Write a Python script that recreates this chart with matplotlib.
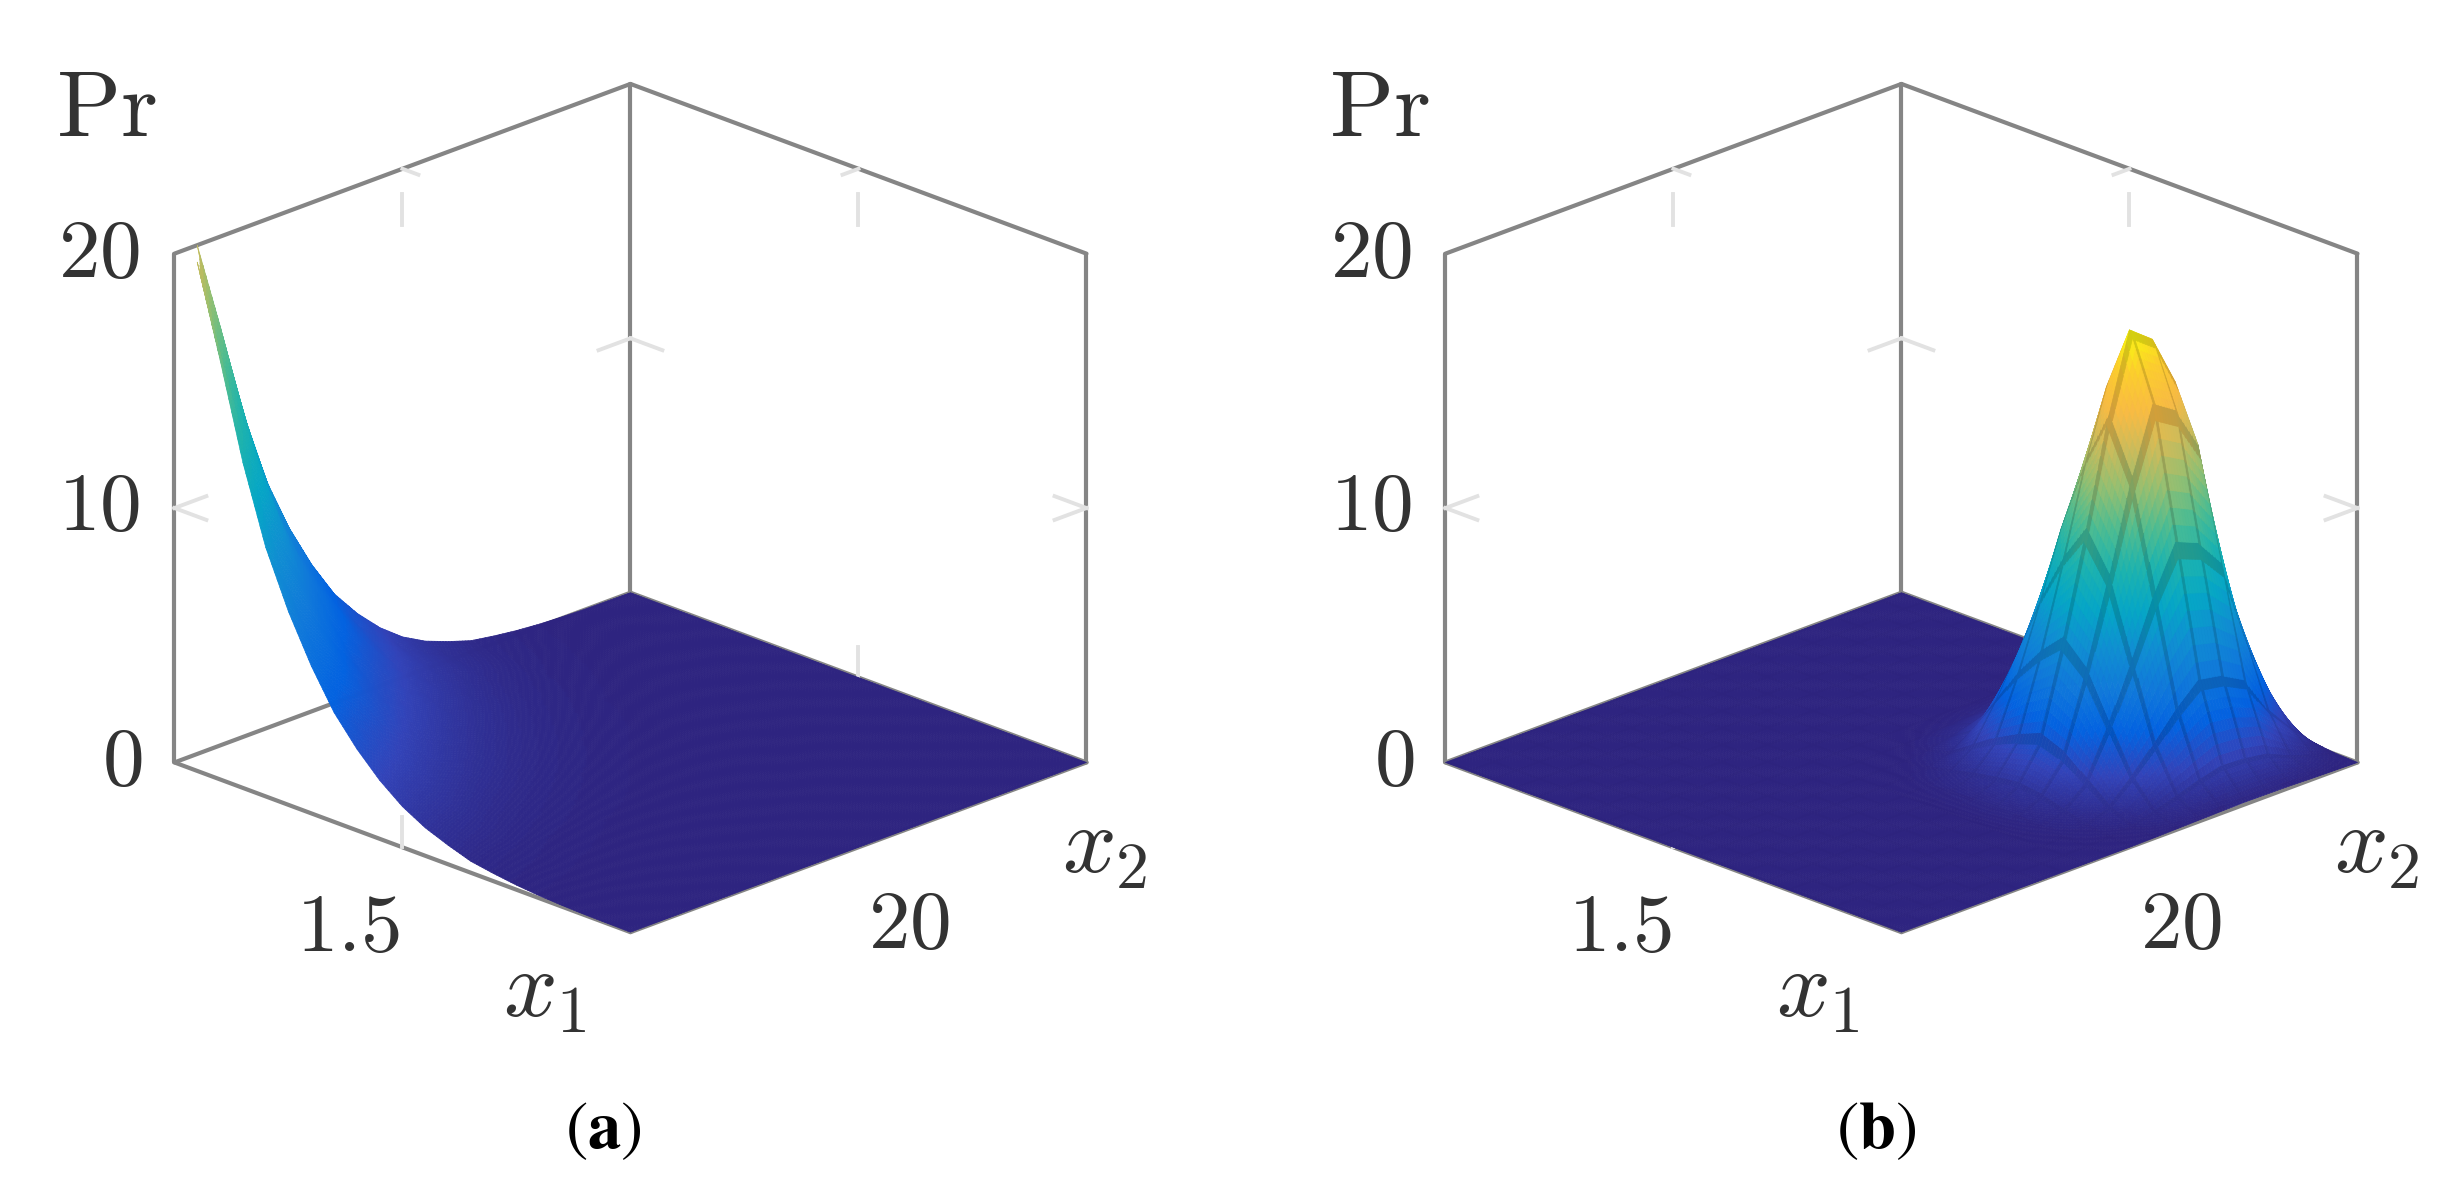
import numpy as np
import matplotlib
matplotlib.use('Agg')
import matplotlib.pyplot as plt
from matplotlib.colors import LinearSegmentedColormap, Normalize

plt.rcParams['mathtext.fontset'] = 'cm'

# grid of the surfaces
x1_grid = np.linspace(1, 2, 21)
x2_grid = np.linspace(10, 30, 21)

x1_lim = (1, 2)
x2_lim = (10, 30)
pr_lim = (0, 20)
x1_tick = 1.5
x2_tick = 20
pr_tick = 10

# Pr, row = x1 node, column = x2 node, the rest is 0.
# The corner node lies above the top of the box and gets cut off there.
pr_a_rows = [
    [25, 20, 16.5, 12.8, 9.8, 7.6, 5.8, 4.3, 3.2, 2.3, 1.6, 1.1, .75, .45, .3, .18, .1, .05, .02, .01],
    [20, 16, 13.2, 10.2, 7.8, 6.1, 4.6, 3.4, 2.6, 1.8, 1.3, .88, .6, .36, .24, .14, .08, .04, .02, .01],
    [16.5, 13.2, 10.9, 8.4, 6.5, 5, 3.8, 2.8, 2.1, 1.5, 1.1, .73, .5, .3, .2, .12, .07, .03, .01, .01],
    [12.8, 10.2, 8.4, 6.6, 5, 3.9, 3, 2.2, 1.6, 1.2, .82, .56, .38, .23, .15, .09, .05, .03, .01, .01],
    [9.8, 7.8, 6.5, 5, 3.8, 3, 2.3, 1.7, 1.3, .9, .63, .43, .29, .18, .12, .07, .04, .02, .01],
    [7.6, 6.1, 5, 3.9, 3, 2.3, 1.8, 1.3, .97, .7, .49, .33, .23, .14, .09, .05, .03, .02, .01],
    [5.8, 4.6, 3.8, 3, 2.3, 1.8, 1.3, 1, .74, .53, .37, .26, .17, .1, .07, .04, .02, .01],
    [4.3, 3.4, 2.8, 2.2, 1.7, 1.3, 1, .74, .55, .4, .28, .19, .13, .08, .05, .03, .02, .01],
    [3.2, 2.6, 2.1, 1.6, 1.3, .97, .74, .55, .41, .29, .2, .14, .1, .06, .04, .02, .01, .01],
    [2.3, 1.8, 1.5, 1.2, .9, .7, .53, .4, .29, .21, .15, .1, .07, .04, .03, .02, .01],
    [1.6, 1.3, 1.1, .82, .63, .49, .37, .28, .2, .15, .1, .07, .05, .03, .02, .01, .01],
    [1.1, .88, .73, .56, .43, .33, .26, .19, .14, .1, .07, .05, .03, .02, .01, .01],
    [.75, .6, .5, .38, .29, .23, .17, .13, .1, .07, .05, .03, .02, .01, .01, .01],
    [.45, .36, .3, .23, .18, .14, .1, .08, .06, .04, .03, .02, .01, .01, .01],
    [.3, .24, .2, .15, .12, .09, .07, .05, .04, .03, .02, .01, .01, .01],
    [.18, .14, .12, .09, .07, .05, .04, .03, .02, .02, .01, .01, .01],
    [.1, .08, .07, .05, .04, .03, .02, .02, .01, .01, .01],
    [.05, .04, .03, .03, .02, .02, .01, .01, .01],
    [.02, .02, .01, .01, .01, .01],
    [.01, .01, .01, .01],
]

# Pr, the nodes around the peak (last 12 x1 and x2 nodes)
pr_b_peak = [
    [0, .01, .02, .07, .11, .16, .2, .2, .17, .1, .05, .01],
    [.01, .03, .1, .27, .47, .68, .85, .82, .72, .43, .21, .03],
    [.03, .1, .31, .82, 1.4, 2.04, 2.55, 2.45, 2.15, 1.28, .64, .09],
    [.08, .27, .82, 2.18, 3.74, 5.44, 6.8, 6.52, 5.72, 3.4, 1.7, .24],
    [.13, .44, 1.33, 3.54, 6.08, 8.84, 11.05, 10.6, 9.3, 5.53, 2.76, .39],
    [.17, .58, 1.73, 4.62, 7.95, 11.56, 14.45, 13.86, 12.16, 7.23, 3.61, .51],
    [.2, .68, 2.04, 5.44, 9.35, 13.6, 17, 16.3, 14.3, 8.5, 4.25, .6],
    [.17, .58, 1.73, 4.62, 7.95, 11.56, 14.45, 13.86, 12.16, 7.23, 3.61, .51],
    [.11, .37, 1.12, 2.99, 5.14, 7.48, 9.35, 8.97, 7.87, 4.68, 2.34, .33],
    [.05, .17, .51, 1.36, 2.34, 3.4, 4.25, 4.08, 3.58, 2.13, 1.06, .15],
    [.01, .05, .14, .38, .65, .95, 1.19, 1.14, 1, .6, .3, .04],
    [0, 0, .01, .03, .05, .07, .09, .08, .07, .04, .02, 0],
]

parula = LinearSegmentedColormap.from_list('parula', [
    (0.18, 0.14, 0.50), (0.1959, 0.2645, 0.7279), (0.0117, 0.3875, 0.8820),
    (0.0629, 0.4737, 0.8554), (0.0641, 0.5570, 0.8240), (0.0228, 0.6535, 0.7768),
    (0.1133, 0.7015, 0.6859), (0.3022, 0.7376, 0.5712), (0.5709, 0.7485, 0.4494),
    (0.7858, 0.7356, 0.3633), (0.9739, 0.7314, 0.2666), (0.9880, 0.8066, 0.1794),
    (0.9763, 0.9831, 0.0538)])

BOX_COLOR = '#858585'
TICK_COLOR = '#e2e2e2'
PX_W, PX_H = 1568, 763   # text positions below are in this size
SHADE_STEPS = 8          # facets per grid cell, for interpolated shading


def fill_grid():
    pr_a = np.zeros((21, 21))
    for i, row in enumerate(pr_a_rows):
        pr_a[i, :len(row)] = row
    pr_b = np.zeros((21, 21))
    pr_b[9:, 9:] = pr_b_peak
    return pr_a, pr_b


def shade_facets(pr):
    # split every grid cell like interp shader does, values stay on the cell's plane
    n = pr.shape[0] - 1
    pos = np.linspace(0, n, n * SHADE_STEPS + 1)
    i0 = np.minimum(pos.astype(int), n - 1)
    w = pos - i0
    rows = pr[i0] * (1 - w)[:, None] + pr[i0 + 1] * w[:, None]
    fine = rows[:, i0] * (1 - w) + rows[:, i0 + 1] * w
    return pos, fine


def draw_box(ax):
    x0, x1 = x1_lim
    y0, y1 = x2_lim
    z0, z1 = pr_lim
    kw = dict(color=BOX_COLOR, lw=3.0, zorder=1, solid_capstyle='round')
    ax.plot([x0, x1], [y0, y0], [z0, z0], **kw)
    ax.plot([x1, x1], [y0, y1], [z0, z0], **kw)
    ax.plot([x0, x0], [y0, y1], [z0, z0], **kw)
    ax.plot([x0, x1], [y1, y1], [z0, z0], **kw)
    ax.plot([x0, x0], [y0, y1], [z1, z1], **kw)
    ax.plot([x0, x1], [y1, y1], [z1, z1], **kw)
    ax.plot([x0, x0], [y0, y0], [z0, z1], **kw)
    ax.plot([x0, x0], [y1, y1], [z0, z1], **kw)
    ax.plot([x1, x1], [y1, y1], [z0, z1], **kw)


def draw_ticks(ax):
    x0, x1 = x1_lim
    y0, y1 = x2_lim
    z0, z1 = pr_lim
    dx, dy, dz = 0.07 * (x1 - x0), 0.07 * (y1 - y0), 0.06 * (z1 - z0)
    kw = dict(color=TICK_COLOR, lw=2.8, zorder=1)
    # ticks on the vertical edges, one stub into each wall
    ax.plot([x0, x0 + dx], [y0, y0], [pr_tick, pr_tick], **kw)
    ax.plot([x0, x0], [y0, y0 + dy], [pr_tick, pr_tick], **kw)
    ax.plot([x0 + dx, x0], [y1, y1], [pr_tick, pr_tick], **kw)
    ax.plot([x0, x0], [y1, y1 - dy], [pr_tick, pr_tick], **kw)
    ax.plot([x1, x1 - dx], [y1, y1], [pr_tick, pr_tick], **kw)
    ax.plot([x1, x1], [y1, y1 - dy], [pr_tick, pr_tick], **kw)
    # ticks on the top and floor edges
    ax.plot([x0, x0], [x2_tick, x2_tick], [z1 - 1, z1 - 1 - dz], **kw)
    ax.plot([x0, x0 + dx / 2], [x2_tick, x2_tick], [z1, z1], **kw)
    ax.plot([x1_tick, x1_tick], [y1, y1], [z1 - 1, z1 - 1 - dz], **kw)
    ax.plot([x1_tick, x1_tick], [y1, y1 - dy / 2], [z1, z1], **kw)
    ax.plot([x1_tick, x1_tick], [y1, y1], [z0, z0 + dz], **kw)
    ax.plot([x1_tick, x1_tick], [y0, y0], [z0, z0 + dz], **kw)


def draw_panel(fig, rect, pr, vmax, mesh):
    ax = fig.add_axes(rect, projection='3d', computed_zorder=False)
    ax.set_proj_type('ortho')
    ax.view_init(elev=21.85, azim=-45)
    ax.set_box_aspect((1, 1, 0.85))
    ax.set_xlim(*x1_lim, view_margin=0)
    ax.set_ylim(*x2_lim, view_margin=0)
    ax.set_zlim(*pr_lim, view_margin=0)
    ax.set_axis_off()
    ax.patch.set_alpha(0)

    draw_box(ax)
    draw_ticks(ax)

    pos, fine = shade_facets(pr)
    x_fine = np.interp(pos, np.arange(21), x1_grid)
    y_fine = np.interp(pos, np.arange(21), x2_grid)
    X, Y = np.meshgrid(x_fine, y_fine, indexing='ij')
    cell = (fine[:-1, :-1] + fine[1:, :-1] + fine[:-1, 1:] + fine[1:, 1:]) / 4
    colors = parula(Normalize(0, vmax)(cell))
    if mesh:
        # grid lines of the surface: darker facets next to each node line
        strength = 0.15 * np.clip(cell / 2.5, 0.08, 1)
        on_line = np.zeros(cell.shape, dtype=bool)
        on_line[::SHADE_STEPS, :] = True
        on_line[:, ::SHADE_STEPS] = True
        colors[..., :3] *= (1 - strength * on_line)[..., None]
    # the part above the box top is cut away
    Z = np.where(fine > pr_lim[1], np.nan, fine)
    ax.plot_surface(X, Y, Z, facecolors=colors, rstride=1, cstride=1,
                    shade=False, linewidth=0.5, zorder=2)
    return ax


def put_labels(fig, dx, letter):
    def put(px, py, s, size):
        fig.text((px + dx) / PX_W, 1 - py / PX_H, s, fontsize=size,
                 ha='center', va='center', color='#333333')
    put(68, 70, r'$\mathrm{Pr}$', 68)
    put(63, 162, r'$20$', 60)
    put(63, 323, r'$10$', 60)
    put(78, 486, r'$0$', 60)
    put(222, 592, r'$1.5$', 60)
    put(580, 590, r'$20$', 60)
    put(348, 632, r'$x_1$', 68)
    put(705, 540, r'$x_2$', 68)
    fig.text((385 + dx) / PX_W, 1 - 720 / PX_H, rf'$(\mathbf{{{letter}}})$',
             fontsize=48, ha='center', va='center', color='black',
             math_fontfamily='stix')


def main():
    pr_a, pr_b = fill_grid()
    fig = plt.figure(figsize=(24.57, 11.96), dpi=100)

    side = 1033
    w, h = side / 2457, side / 1196
    draw_panel(fig, [100 / 2457, 157.5 / 1196, w, h], pr_a, 27, False)
    draw_panel(fig, [1371 / 2457, 157.5 / 1196, w, h], pr_b, 17, True)

    put_labels(fig, 0, 'a')
    put_labels(fig, 812, 'b')

    fig.savefig('out.png', dpi=100)


if __name__ == "__main__":
    main()
